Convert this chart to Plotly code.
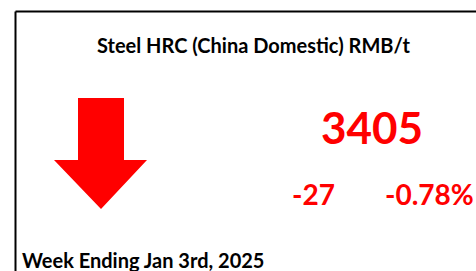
import plotly.graph_objects as go

title = "Steel HRC (China Domestic) RMB/t"
price = 3405
change_abs = -27
change_pct = -0.78
week_label = "Week Ending Jan 3rd, 2025"

W, H = 476, 271
RED = "#FF0000"
FONT = "Lato"

fig = go.Figure()

# arrow (direction driven by the sign of the change)
cx, top, head_y, tip = 101, 98, 160, 209
if change_abs < 0:
    xs = [78, 124, 124, 147, cx, 54, 78, 78]
    ys = [top, top, head_y, head_y, tip, head_y, head_y, top]
else:
    hy = top + (tip - head_y)
    xs = [78, 124, 124, 147, cx, 54, 78, 78]
    ys = [tip, tip, hy, hy, top, hy, hy, tip]
fig.add_trace(go.Scatter(x=xs, y=ys, mode="lines", fill="toself",
                         fillcolor=RED, line=dict(color=RED, width=0),
                         hoverinfo="skip", showlegend=False))

# frame (top and left edges visible)
fig.add_shape(type="line", xref="x", yref="y", x0=15.5, x1=W + 5, y0=11.5, y1=11.5,
              line=dict(color="black", width=2))
fig.add_shape(type="line", xref="x", yref="y", x0=15.5, x1=15.5, y0=11.5, y1=H + 5,
              line=dict(color="black", width=2))

fig.add_annotation(x=253, y=45, xref="x", yref="y", text=f"<b>{title}</b>",
                   showarrow=False, xanchor="center", yanchor="middle",
                   font=dict(family=FONT, size=20, color="black"))
fig.add_annotation(x=372, y=127, xref="x", yref="y", text=f"<b>{price}</b>",
                   showarrow=False, xanchor="center", yanchor="middle",
                   font=dict(family=FONT, size=44, color=RED))
fig.add_annotation(x=313, y=194, xref="x", yref="y", text=f"<b>{change_abs}</b>",
                   showarrow=False, xanchor="center", yanchor="middle",
                   font=dict(family=FONT, size=28, color=RED))
fig.add_annotation(x=383, y=194, xref="x", yref="y", text=f"<b>{change_pct:.2f}%</b>",
                   showarrow=False, xanchor="left", yanchor="middle",
                   font=dict(family=FONT, size=28, color=RED))
fig.add_annotation(x=20, y=260, xref="x", yref="y", text=f"<b>{week_label}</b>",
                   showarrow=False, xanchor="left", yanchor="middle",
                   font=dict(family=FONT, size=20, color="black"))

fig.update_xaxes(range=[0, W], visible=False, fixedrange=True)
fig.update_yaxes(range=[H, 0], visible=False, fixedrange=True)
fig.update_layout(width=W, height=H, margin=dict(l=0, r=0, t=0, b=0),
                  paper_bgcolor="white", plot_bgcolor="white", showlegend=False)

fig.write_html("out.html", config={"displayModeBar": False},
               post_script="document.body.style.margin='0';document.body.style.overflow='hidden';")
